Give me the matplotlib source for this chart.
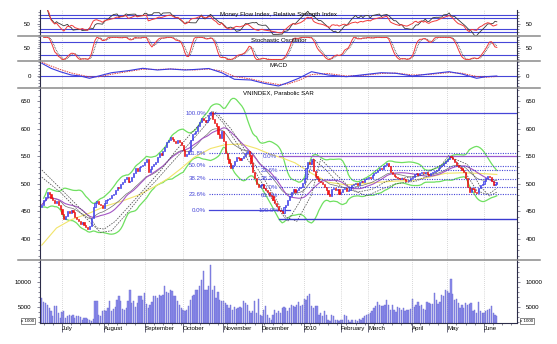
import numpy as np
import pandas as pd
import matplotlib
matplotlib.use("Agg")
import matplotlib.pyplot as plt

plt.rcParams['font.family'] = ['Liberation Sans', 'DejaVu Sans']

# daily VNINDEX closes, mid June 2009 .. mid June 2010
closes = [
    462, 470, 476, 485, 482, 474, 470, 466, 468, 462,
    455, 446, 436, 442, 450, 447, 452, 449, 440, 436,
    432, 428, 431, 425, 421, 418, 424, 438, 458, 466,
    468, 464, 462, 456, 465, 470, 472, 475, 479, 482,
    488, 495, 493, 500, 504, 508, 512, 503, 506, 512,
    520, 528, 524, 530, 533, 535, 540, 545, 522, 526,
    532, 536, 540, 548, 555, 552, 560, 566, 575, 580,
    585, 582, 578, 574, 580, 576, 570, 562, 550, 554,
    560, 580, 590, 592, 595, 604, 612, 620, 616, 612,
    616, 624, 630, 618, 610, 604, 590, 583, 595, 578,
    556, 545, 538, 528, 535, 542, 548, 546, 543, 547,
    550, 555, 560, 552, 538, 522, 510, 500, 494, 498,
    500, 492, 488, 485, 480, 478, 470, 466, 460, 452,
    450, 447, 458, 462, 470, 478, 485, 490, 486, 488,
    492, 495, 502, 510, 528, 540, 536, 545, 524, 515,
    510, 505, 503, 500, 495, 488, 482, 478, 490, 492,
    488, 490, 482, 486, 490, 492, 487, 488, 494, 498,
    500, 502, 498, 503, 506, 504, 508, 510, 512, 510,
    516, 520, 522, 525, 528, 527, 532, 535, 538, 532,
    522, 518, 515, 512, 510, 508, 511, 508, 506, 505,
    507, 510, 512, 518, 520, 516, 520, 522, 519, 522,
    518, 516, 520, 522, 524, 525, 528, 532, 535, 538,
    542, 545, 550, 548, 545, 540, 535, 530, 528, 525,
    522, 510, 495, 485, 492, 490, 486, 484, 492, 497,
    500, 506, 510, 514, 512, 505, 498, 500, 503,
]

# daily volume (x 1000)
volumes = [
    6700, 6000, 5700, 5400, 4700, 4100, 3100, 5100, 5100, 3800,
    2800, 3900, 4100, 2700, 3100, 3400, 3100, 3400, 2700, 3200,
    3100, 3000, 2400, 2700, 2700, 2500, 2400, 2100, 2500, 6100,
    6200, 3400, 3100, 4100, 4400, 4100, 4700, 6100, 4100, 4500,
    4900, 6400, 7100, 6100, 4500, 4400, 4700, 6100, 8400, 5700,
    6100, 4900, 5700, 7200, 7100, 6400, 7700, 5600, 4700, 5400,
    5900, 7100, 7200, 6700, 7400, 7100, 7400, 9100, 7900, 7700,
    8400, 8100, 7200, 7100, 6100, 5400, 4700, 4400, 4100, 4400,
    5100, 6400, 7100, 7400, 8400, 8300, 9100, 10400, 12100, 8400,
    8400, 9100, 13400, 8400, 9200, 6700, 7900, 6400, 6100, 6100,
    5700, 5400, 4700, 5400, 4400, 4900, 4500, 4700, 5000, 4700,
    6100, 5700, 5400, 4100, 3700, 4100, 6100, 3700, 6500, 3400,
    3100, 4400, 5100, 3400, 2700, 2400, 3400, 4400, 3700, 4100,
    3700, 4700, 4900, 4700, 4100, 4700, 5400, 5100, 4900, 5400,
    5900, 5100, 5400, 6500, 6400, 7100, 7600, 5200, 4700, 5200,
    5200, 3400, 3700, 3100, 4100, 3400, 2400, 2100, 3400, 3100,
    2400, 2300, 2100, 2400, 2400, 3400, 3100, 2400, 1900, 2300,
    1800, 2400, 2100, 2500, 2400, 2700, 3100, 3400, 3600, 3700,
    4100, 4700, 5200, 5900, 5400, 5200, 5100, 5400, 6400, 5400,
    4400, 5400, 4300, 3900, 4900, 4700, 4400, 4700, 4100, 4400,
    4300, 4500, 6500, 4900, 5400, 5900, 5100, 5400, 4500, 4400,
    5900, 5700, 5600, 5600, 7700, 6400, 5600, 5900, 7400, 7100,
    8400, 8100, 7700, 10500, 7600, 6400, 6500, 5700, 4700, 5400,
    4700, 5700, 5400, 5600, 5700, 4100, 4400, 3700, 5900, 4100,
    3700, 3700, 4100, 4400, 4500, 5100, 3700, 3400, 3100,
]

month_pos = [11, 34, 56, 77, 99, 120, 143, 163, 178, 202, 221, 241]
month_names = ["July", "August", "September", "October", "November", "December",
               "2010", "February", "March", "April", "May", "June"]

# long moving average (yellow)
slow_idx = [0, 8, 16, 26, 35, 44, 53, 62, 69, 76, 83, 92, 100, 109, 117, 125,
            131, 138, 147, 156, 166, 174, 184, 193, 202, 211, 220, 229, 238, 248]
slow_val = [389, 420, 435, 447, 460, 469, 480, 496, 510, 528, 548, 564, 571, 572, 564, 553,
            547, 538, 519, 503, 498, 500, 503, 505, 506, 512, 519, 520, 519, 517]

# parabolic SAR traces (dashed)
sar1_idx = [0, 10, 21, 26, 30, 34, 40, 49, 57, 65, 73, 81, 90, 93, 99, 106, 114, 122,
            131, 134, 141, 148, 155, 163, 172, 180, 188, 196, 207, 218, 222, 229, 237, 243, 248]
sar1_val = [525, 492, 455, 440, 420, 418, 432, 465, 495, 525, 560, 590, 622, 632, 610, 575,
            535, 490, 445, 432, 470, 545, 525, 495, 485, 490, 505, 510, 515, 535, 552, 530,
            488, 480, 492]
sar2_idx = [0, 10, 21, 28, 32, 38, 46, 54, 62, 70, 79, 87, 95, 103, 111, 120, 128, 133,
            139, 147, 152, 161, 169, 177, 185, 193, 204, 215, 223, 232, 239, 244, 248]
sar2_val = [512, 485, 448, 425, 412, 415, 445, 478, 505, 535, 568, 598, 630, 600, 560, 515,
            470, 440, 432, 480, 545, 515, 490, 478, 490, 500, 505, 520, 548, 535, 495, 478, 485]

# MACD (12,26,9) line and signal
macd_idx = [0, 5, 10, 16, 21, 26, 31, 38, 47, 55, 63, 70, 78, 83, 91, 98, 105, 114,
            121, 129, 134, 140, 147, 156, 166, 174, 185, 193, 202, 211, 222, 229, 237, 242, 248]
macd_val = [12.7, 7.7, 4.3, 1.0, 0.0, -2.3, 0.0, 3.3, 5.3, 7.7, 6.0, 7.0, 6.0, 6.5, 7.5, 3.3,
            -3.3, -4.0, -7.3, -10.0, -6.7, -2.3, 4.3, 1.0, -0.7, 1.0, 3.3, 2.7, 0.0, 2.0,
            4.3, 2.0, -2.3, -0.7, 0.0]
signal_val = [14.0, 10.0, 6.5, 3.0, 1.0, -1.0, -0.8, 1.8, 4.5, 6.8, 6.5, 7.0, 6.5, 6.0, 7.0,
              5.0, -0.5, -3.0, -6.0, -8.5, -8.0, -4.5, 1.5, 2.5, 0.0, 0.5, 2.5, 3.0, 1.0, 1.5,
              3.5, 2.8, -0.5, -1.2, -0.5]

# Fibonacci retracements
fib_a_labels = ["100.0%", "61.8%", "50.0%", "38.2%", "23.6%", "0.0%"]
fib_a_prices = [628, 555, 533, 509, 481, 452]
fib_b_labels = ["0.0%", "23.6%", "38.2%", "50.0%", "61.8%", "100.0%"]
fib_b_prices = [550, 524.5, 509, 493.5, 480, 436]
fib_b_text_y = [550, 525, 509, 494, 479, 452]

# ---------------------------------------------------------------- indicators
c = pd.Series(closes, dtype=float)
v = pd.Series(volumes, dtype=float)
x = np.arange(len(c))
opens = c.shift(1).fillna(c.iloc[0] - 4)

mid = c.rolling(20, min_periods=1).mean()
sd = c.rolling(20, min_periods=2).std(ddof=0)
bb_up = mid + 2 * sd
bb_lo = mid - 2 * sd
ema = c.ewm(span=20, adjust=True).mean()

chg = c.diff().fillna(0)
gain = chg.clip(lower=0).ewm(alpha=1 / 14, adjust=True).mean()
loss = (-chg.clip(upper=0)).ewm(alpha=1 / 14, adjust=True).mean()
rsi = 100 * gain / (gain + loss)

flow = c * v
pos = flow.where(chg > 0, 0).rolling(14, min_periods=1).sum()
neg = flow.where(chg < 0, 0).rolling(14, min_periods=1).sum()
mfi = 100 * pos / (pos + neg)

lo14 = c.rolling(14, min_periods=1).min()
hi14 = c.rolling(14, min_periods=1).max()
fast_k = 100 * (c - lo14) / (hi14 - lo14).replace(0, np.nan)
slow_k = fast_k.rolling(3, min_periods=1).mean()
slow_d = slow_k.rolling(3, min_periods=1).mean()

# ---------------------------------------------------------------- layout
W, H = 557, 344
fig = plt.figure(figsize=(W / 100, H / 100), dpi=100)
fig.patch.set_facecolor('white')


def panel(top, bottom):
    return fig.add_axes([40 / W, 1 - bottom / H, 477 / W, (bottom - top) / H])


ax_mfi = panel(10, 36)
ax_sto = panel(36, 61)
ax_macd = panel(61, 88)
ax_px = panel(88, 260)
ax_vol = panel(260, 323)

AXC = '#2c2c48'
BLUE = '#4646d8'
FS = 4.4


def style(ax, major, minor, ylim):
    ax.set_xlim(-1, 259)
    ax.set_ylim(*ylim)
    ax.set_facecolor('white')
    for s in ('top', 'bottom'):
        ax.spines[s].set_visible(False)
    for s in ('left', 'right'):
        ax.spines[s].set_color(AXC)
        ax.spines[s].set_linewidth(0.8)
    ax.set_yticks(major)
    ax.set_yticks(minor, minor=True)
    ax.tick_params(axis='y', which='both', left=True, right=True, labelleft=True,
                   labelright=True, direction='out', colors=AXC, labelcolor='black',
                   labelsize=FS, width=0.4, pad=4)
    ax.tick_params(axis='y', which='major', length=2.5)
    ax.tick_params(axis='y', which='minor', length=1.3)
    ax.set_xticks(month_pos)
    ax.tick_params(axis='x', which='both', bottom=False, labelbottom=False)
    ax.grid(axis='x', color='#b4b4b4', ls=(0, (1, 2)), lw=0.5)


def title(ax, txt, y_px):
    ax.text(0.5, y_px, txt, transform=ax.transAxes, ha='center', va='top', fontsize=FS)


# Money flow / RSI
style(ax_mfi, [50], np.arange(10, 100, 10), (6, 98))
for lvl in (80, 70, 30, 20):
    ax_mfi.axhline(lvl, color=BLUE, lw=0.8)
ax_mfi.plot(x, mfi, color='#383838', lw=0.6)
ax_mfi.plot(x, rsi, color='#f03a3a', lw=0.7)
title(ax_mfi, "Money Flow Index, Relative Strength Index", 0.93)

# Stochastic
style(ax_sto, [50], np.arange(0, 101, 10), (-7, 106))
for lvl in (80, 20):
    ax_sto.axhline(lvl, color=BLUE, lw=0.8)
ax_sto.plot(x, slow_d, color='#404040', lw=0.6, ls=(0, (1, 1)))
ax_sto.plot(x, slow_k, color='#f03a3a', lw=0.7)
title(ax_sto, "Stochastic Oscillator", 0.93)

# MACD
style(ax_macd, [0], np.arange(-10, 16, 3), (-12, 15))
ax_macd.axhline(0, color=BLUE, lw=0.8)
ax_macd.plot(macd_idx, signal_val, color='#e04040', lw=0.7, ls=(0, (1.5, 1)))
ax_macd.plot(macd_idx, macd_val, color='#3b3be0', lw=0.8)
title(ax_macd, "MACD", 0.93)

# Price
style(ax_px, np.arange(400, 651, 50), np.arange(370, 671, 10), (362, 673.6))
title(ax_px, "VNINDEX, Parabolic SAR", 0.985)

ax_px.plot(x, bb_up, color='#6fe060', lw=0.9)
ax_px.plot(x, bb_lo, color='#6fe060', lw=0.9)
ax_px.plot(slow_idx, slow_val, color='#f2e46a', lw=0.8)
ax_px.plot(x, ema, color='#707070', lw=0.5)
ax_px.plot(x, mid, color='#a455c4', lw=0.8)
ax_px.plot(sar1_idx, sar1_val, color='#505050', lw=0.55, ls=(0, (2, 1.5)))
ax_px.plot(sar2_idx, sar2_val, color='#505050', lw=0.55, ls=(0, (2, 1.5)))

# Fibonacci levels
left_start, left_end = 91, 259
for lab, p in zip(fib_a_labels, fib_a_prices):
    solid = lab in ("100.0%", "0.0%")
    end = 135 if lab == "0.0%" else left_end
    ax_px.plot([left_start, end], [p, p], color=BLUE,
               lw=0.9 if solid else 0.8, ls='-' if solid else (0, (1, 1.2)))
    ax_px.text(89.5, p, lab, color=BLUE, fontsize=FS, ha='right', va='center')
right_start = 129
for lab, p, ty in zip(fib_b_labels, fib_b_prices, fib_b_text_y):
    if lab == "0.0%":
        ax_px.plot([right_start, left_end], [p, p], color='#9a5ad0', lw=0.9)
    elif lab == "100.0%":
        ax_px.plot([right_start, left_end], [p, p], color='#3a3ad0', lw=1.0)
    elif lab in ("23.6%", "50.0%"):
        ax_px.plot([right_start, left_end], [p, p], color=BLUE, lw=0.8, ls=(0, (1, 1.2)))
    ax_px.text(124, ty, lab, color=BLUE, fontsize=FS, ha='center', va='center')

# candles, close-to-close bodies
up = c >= opens
body = (c - opens).abs().clip(lower=0.9)
base = np.minimum(c, opens)
ax_px.bar(x[up], body[up], bottom=base[up], width=0.6, color='#8c8cff',
          edgecolor='#2a2ae0', lw=0.45, zorder=3)
ax_px.bar(x[~up], body[~up], bottom=base[~up], width=0.6, color='#ff1414',
          edgecolor='#e00000', lw=0.4, zorder=3)

# Volume
style(ax_vol, [5000, 10000], np.arange(2000, 14001, 1000), (1700, 14400))
ax_vol.yaxis.set_major_formatter(matplotlib.ticker.FuncFormatter(lambda val, pos: f"{val:.0f}"))
ax_vol.bar(x, v - 1700, bottom=1700, width=0.7, color='#8c8cea', edgecolor='#6a6ad2', lw=0.3)
ax_vol.spines['bottom'].set_visible(True)
ax_vol.spines['bottom'].set_color(AXC)
ax_vol.spines['bottom'].set_linewidth(0.8)
ax_vol.set_xticks(np.arange(1, 259, 5), minor=True)
ax_vol.set_xticklabels(month_names, ha='left')
ax_vol.tick_params(axis='x', which='major', bottom=True, labelbottom=True, length=6.5,
                   width=0.5, colors=AXC, labelcolor='black', labelsize=FS, pad=-4.5)
ax_vol.tick_params(axis='x', which='minor', bottom=True, length=1.6, width=0.4, colors=AXC)
for xt in (28 / W, 527 / W):
    fig.text(xt, 1 - 321 / H, "x 1000", fontsize=3.2, ha='center', va='center',
             bbox=dict(boxstyle='square,pad=0.15', fc='white', ec='#333333', lw=0.4))

# panel separators
for yy in (36, 61, 88, 260):
    fig.add_artist(plt.Line2D([18 / W, 540 / W], [1 - yy / H, 1 - yy / H],
                              color='#8a8a8a', lw=1.1))

fig.savefig("out.png", dpi=100, facecolor='white')
